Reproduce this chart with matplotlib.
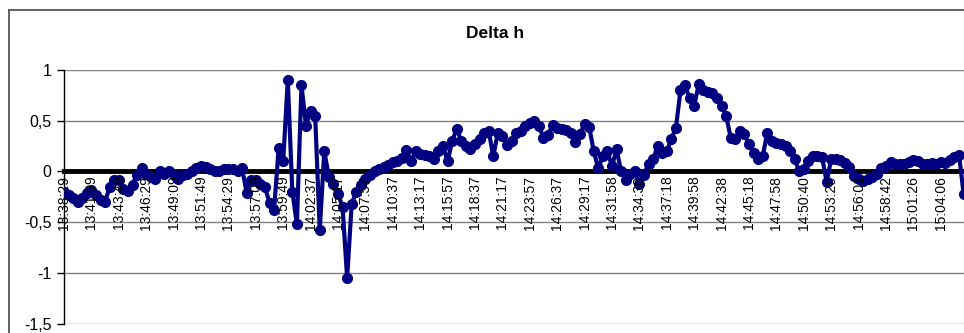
import matplotlib
matplotlib.use("Agg")
import matplotlib.pyplot as plt
from matplotlib.lines import Line2D
import numpy as np

plt.rcParams['font.family'] = ['Liberation Sans', 'DejaVu Sans']

title = "Delta h"

time_labels = ["13:38:29", "13:41:09", "13:43:49", "13:46:29", "13:49:09", "13:51:49",
               "13:54:29", "13:57:09", "13:59:49", "14:02:37", "14:05:17", "14:07:57",
               "14:10:37", "14:13:17", "14:15:57", "14:18:37", "14:21:17", "14:23:57",
               "14:26:37", "14:29:17", "14:31:58", "14:34:38", "14:37:18", "14:39:58",
               "14:42:38", "14:45:18", "14:47:58", "14:50:40", "14:53:20", "14:56:01",
               "14:58:42", "15:01:26", "15:04:06"]

# Delta h readings, six samples per labelled interval
delta_h = [
    -0.20, -0.23, -0.26, -0.30, -0.26, -0.21, -0.18, -0.23, -0.28, -0.30,
    -0.15, -0.08, -0.08, -0.17, -0.19, -0.13, -0.03, 0.03, -0.02, -0.05,
    -0.07, 0.00, -0.02, 0.00, -0.03, -0.07, -0.03, -0.02, 0.00, 0.03,
    0.05, 0.04, 0.02, 0.00, 0.00, 0.02, 0.02, 0.02, 0.00, 0.03,
    -0.21, -0.08, -0.08, -0.12, -0.15, -0.31, -0.38, 0.23, 0.10, 0.90,
    -0.20, -0.52, 0.85, 0.45, 0.60, 0.55, -0.58, 0.20, -0.05, -0.12,
    -0.22, -0.35, -1.05, -0.32, -0.20, -0.13, -0.07, -0.03, 0.00, 0.02,
    0.04, 0.06, 0.09, 0.10, 0.13, 0.21, 0.10, 0.20, 0.17, 0.16,
    0.15, 0.12, 0.20, 0.25, 0.10, 0.30, 0.42, 0.30, 0.25, 0.22,
    0.27, 0.32, 0.38, 0.40, 0.15, 0.38, 0.35, 0.26, 0.30, 0.38,
    0.40, 0.45, 0.48, 0.50, 0.45, 0.33, 0.36, 0.46, 0.43, 0.42,
    0.41, 0.38, 0.29, 0.37, 0.47, 0.44, 0.20, 0.03, 0.15, 0.20,
    0.05, 0.22, 0.00, -0.08, -0.02, 0.00, -0.12, -0.03, 0.07, 0.12,
    0.25, 0.18, 0.20, 0.32, 0.43, 0.80, 0.85, 0.72, 0.65, 0.86,
    0.80, 0.78, 0.77, 0.72, 0.65, 0.55, 0.33, 0.32, 0.40, 0.37,
    0.27, 0.18, 0.12, 0.15, 0.38, 0.30, 0.28, 0.27, 0.25, 0.20,
    0.12, 0.00, 0.02, 0.10, 0.15, 0.15, 0.14, -0.10, 0.12, 0.12,
    0.11, 0.08, 0.04, -0.04, -0.07, -0.09, -0.07, -0.05, -0.02, 0.03,
    0.05, 0.09, 0.07, 0.07, 0.07, 0.09, 0.11, 0.10, 0.07, 0.07,
    0.08, 0.07, 0.09, 0.08, 0.11, 0.14, 0.16, -0.22,
]

y_ticks = [-1.5, -1.0, -0.5, 0.0, 0.5, 1.0]
y_tick_labels = ["-1,5", "-1", "-0,5", "0", "0,5", "1"]

W, H = 964, 333
fig = plt.figure(figsize=(W / 100, H / 100), dpi=100)

samples_per_label = 6
x = np.arange(len(delta_h)) / samples_per_label

left_px, right_px = 64, 982
top_px, bottom_px = 70, 323.7
ax = fig.add_axes([left_px / W, (H - bottom_px) / H,
                   (right_px - left_px) / W, (bottom_px - top_px) / H])

ax.plot(x, delta_h, color="#000080", lw=3.0, marker="o", ms=7,
        mfc="#000080", mec="#000080", zorder=3, solid_joinstyle="round")

ax.set_xlim(0, (right_px - left_px) / 27.4)
ax.set_ylim(-1.5, 1.0)
ax.set_yticks(y_ticks)
ax.set_yticklabels(y_tick_labels, fontsize=11.5)
ax.set_xticks(np.arange(len(time_labels)))
ax.set_xticklabels(time_labels, fontsize=9)

ax.tick_params(axis="y", length=5, width=1, direction="out", pad=4, color="black")
ax.tick_params(axis="x", length=0, pad=3, labelrotation=90)
for lbl in ax.get_xticklabels():
    lbl.set_rotation(90)
    lbl.set_va("top")
    lbl.set_ha("center")

ax.yaxis.grid(True, color="#808080", lw=1)
ax.set_axisbelow(True)

for s in ["top", "right"]:
    ax.spines[s].set_visible(False)
ax.spines["left"].set_color("black")
ax.spines["left"].set_linewidth(1)
ax.spines["bottom"].set_position(("data", 0))
ax.spines["bottom"].set_linewidth(3.5)
ax.spines["bottom"].set_color("black")
ax.spines["bottom"].set_zorder(2)
ax.xaxis.set_zorder(4)

# chart-area border
fig.add_artist(Line2D([9 / W, 1.0], [1 - 10 / H, 1 - 10 / H], color="#555555", lw=1.3,
                      transform=fig.transFigure))
fig.add_artist(Line2D([9 / W, 9 / W], [1 - 10 / H, 0.0], color="#555555", lw=1.3,
                      transform=fig.transFigure))

fig.text(495 / W, 1 - 33 / H, title, ha="center", va="center",
         fontsize=12.5, fontweight="bold")

fig.savefig("out.png", dpi=100, facecolor="white")
